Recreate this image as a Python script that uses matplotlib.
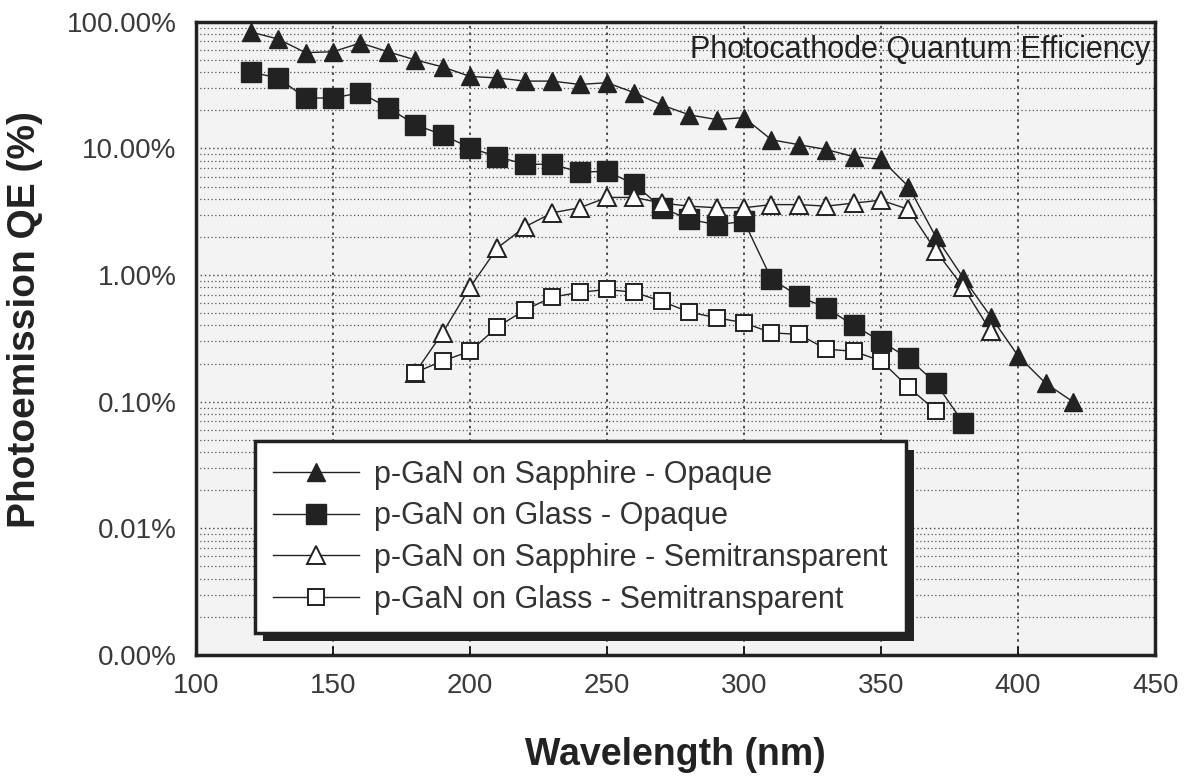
import matplotlib
matplotlib.use("Agg")
import matplotlib.pyplot as plt
import matplotlib.patheffects as pe
from matplotlib.ticker import FuncFormatter, LogLocator, MultipleLocator

plt.rcParams['font.family'] = ['Liberation Sans', 'DejaVu Sans']

# wavelength grids (nm)
wl_sapphire_opaque = list(range(120, 430, 10))
wl_glass_opaque = list(range(120, 390, 10))
wl_sapphire_semi = list(range(180, 400, 10))
wl_glass_semi = list(range(180, 380, 10))

# quantum efficiency (%)
qe_sapphire_opaque = [83, 73, 57, 58, 68, 58, 50, 44, 37, 36, 34, 34, 32, 33,
                      27.5, 22, 18.4, 16.9, 17.5, 11.7, 10.7, 9.8, 8.6, 8.2,
                      5.0, 2.0, 0.95, 0.47, 0.23, 0.14, 0.10]
qe_glass_opaque = [40, 36, 25, 25, 27.5, 21, 15.4, 12.8, 10.1, 8.6, 7.5, 7.5,
                   6.5, 6.6, 5.2, 3.4, 2.75, 2.5, 2.65, 0.93, 0.68, 0.55, 0.40,
                   0.30, 0.22, 0.14, 0.068]
qe_sapphire_semi = [0.17, 0.35, 0.8, 1.64, 2.4, 3.1, 3.4, 4.1, 4.1, 3.7, 3.5,
                    3.4, 3.4, 3.6, 3.6, 3.5, 3.7, 3.9, 3.3, 1.55, 0.8, 0.36]
qe_glass_semi = [0.17, 0.21, 0.25, 0.39, 0.53, 0.67, 0.73, 0.77, 0.73, 0.62,
                 0.51, 0.46, 0.42, 0.35, 0.34, 0.26, 0.25, 0.21, 0.13, 0.085]

labels = ["p-GaN on Sapphire - Opaque",
          "p-GaN on Glass - Opaque",
          "p-GaN on Sapphire - Semitransparent",
          "p-GaN on Glass - Semitransparent"]

ink = '#222222'

fig = plt.figure(figsize=(11.9, 7.77), dpi=100)
ax = fig.add_axes([0.1647, 0.157, 0.806, 0.815])
ax.set_facecolor('#f3f3f3')

ax.plot(wl_sapphire_opaque, qe_sapphire_opaque, color=ink, lw=1.0,
        marker='^', ms=13, mfc=ink, mec=ink, label=labels[0])
ax.plot(wl_glass_opaque, qe_glass_opaque, color=ink, lw=1.0,
        marker='s', ms=15, mfc=ink, mec=ink, label=labels[1])
ax.plot(wl_sapphire_semi, qe_sapphire_semi, color=ink, lw=1.0,
        marker='^', ms=13, mfc='white', mec=ink, mew=1.4, label=labels[2])
ax.plot(wl_glass_semi, qe_glass_semi, color=ink, lw=1.0,
        marker='s', ms=12, mfc='white', mec=ink, mew=1.4, label=labels[3])

ax.set_yscale('log')
ax.set_ylim(0.001, 100)
ax.set_xlim(100, 450)
ax.xaxis.set_major_locator(MultipleLocator(50))
ax.yaxis.set_major_locator(LogLocator(base=10, numticks=10))
ax.yaxis.set_minor_locator(LogLocator(base=10, subs=range(2, 10), numticks=20))
ax.yaxis.set_major_formatter(FuncFormatter(lambda v, p: f"{v:.2f}%"))
ax.yaxis.set_minor_formatter(FuncFormatter(lambda v, p: ""))

ax.set_axisbelow(True)
ax.grid(axis='x', which='major', color='#333333', ls=(0, (1.5, 2.5)), lw=1.2)
ax.grid(axis='y', which='major', color='#444444', ls=(0, (1, 2)), lw=1.0)
ax.grid(axis='y', which='minor', color='#555555', ls=(0, (1, 2)), lw=0.9)

for s in ax.spines.values():
    s.set_linewidth(2.5)
    s.set_color(ink)

ax.tick_params(axis='x', direction='in', length=6, width=1.2, pad=13,
               labelsize=20, labelcolor='#3a3a3a', top=False)
ax.tick_params(axis='y', which='both', length=0, pad=14,
               labelsize=20, labelcolor='#3a3a3a')

ax.set_xlabel("Wavelength (nm)", fontsize=27, fontweight='bold', color=ink)
ax.xaxis.set_label_coords(0.5, -0.13)
ax.set_ylabel("Photoemission QE (%)", fontsize=28, fontweight='bold', color=ink)
ax.yaxis.set_label_coords(-0.16, 0.53)

ax.text(0.995, 0.955, "Photocathode Quantum Efficiency", transform=ax.transAxes,
        ha='right', va='center', fontsize=22, color=ink)

leg = ax.legend(loc='lower left', bbox_to_anchor=(0.0615, 0.035),
                borderaxespad=0, fontsize=22, frameon=True, fancybox=False,
                handlelength=2.8, handletextpad=0.5, labelspacing=0.38,
                borderpad=0.6, framealpha=1)
frame = leg.get_frame()
frame.set_edgecolor(ink)
frame.set_linewidth(2.5)
frame.set_facecolor('white')
frame.set_path_effects([pe.SimplePatchShadow(offset=(6, -6), shadow_rgbFace=ink,
                                             alpha=1.0), pe.Normal()])
for t in leg.get_texts():
    t.set_color('#333333')

fig.savefig("out.png", dpi=100)
